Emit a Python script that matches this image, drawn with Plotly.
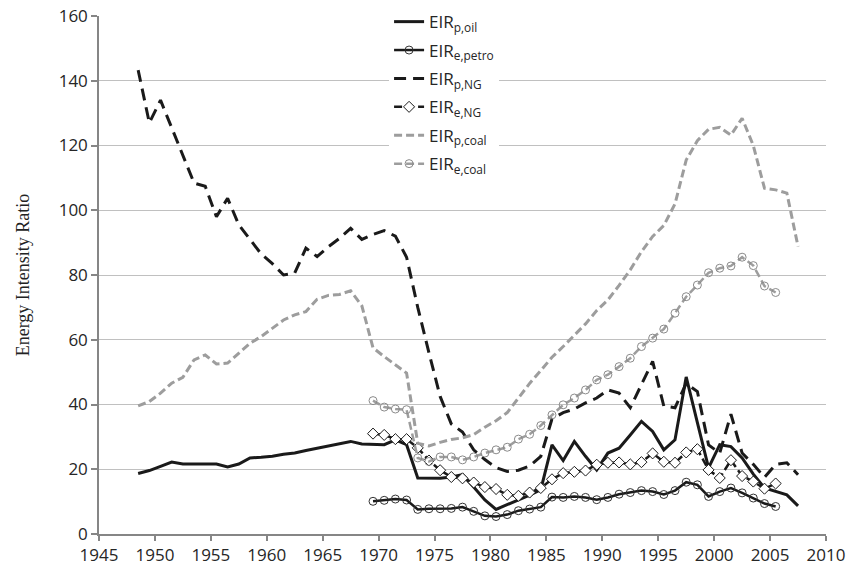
import plotly.graph_objects as go

# ---- data (annual values; each plotted at mid-year) ----
years_p = list(range(1949, 2009))
years_e = list(range(1970, 2007))

eir_p_oil = [18.7, 19.6, 20.9, 22.2, 21.6, 21.5, 21.6, 21.6, 20.7, 21.6,
             23.5, 23.7, 24.0, 24.6, 25.0, 25.8, 26.5, 27.2, 27.8, 28.6,
             27.8, 27.8, 27.6, 29.1, 27.6, 17.3, 17.2, 17.2, 17.6, 18.3,
             14.5, 10.5, 7.6, 9.0, 10.5, 12.0, 13.7, 27.5, 22.7, 28.6,
             24.0, 19.8, 25.0, 26.5, 30.6, 34.8, 31.7, 26.0, 29.1, 48.5,
             34.4, 20.4, 27.6, 27.0, 23.5, 18.5, 14.2, 13.1, 12.1, 8.7]

eir_p_ng = [143.3, 127.0, 134.0, 125.5, 117.0, 108.4, 107.4, 98.0, 103.7, 95.5,
            91.0, 86.5, 83.5, 80.0, 80.6, 88.3, 85.7, 88.7, 91.3, 94.4,
            91.0, 92.5, 93.7, 92.0, 85.5, 70.0, 56.0, 42.5, 34.0, 31.5,
            26.0, 23.0, 20.5, 19.3, 19.7, 21.0, 24.0, 35.5, 37.5, 38.6,
            40.5, 42.0, 44.5, 43.5, 39.0, 46.0, 53.3, 39.5, 39.0, 46.5,
            44.0, 27.5, 25.0, 37.0, 25.0, 21.5, 17.5, 21.5, 22.0, 18.3]

eir_p_coal = [39.6, 40.9, 43.5, 46.6, 48.4, 53.8, 55.3, 52.5, 52.8, 55.9,
              58.9, 61.0, 63.6, 66.1, 67.7, 68.7, 72.5, 73.7, 74.0, 75.1,
              70.5, 57.5, 54.8, 52.3, 49.7, 28.0, 27.2, 28.3, 29.2, 29.7,
              30.7, 33.0, 35.0, 37.5, 42.0, 46.5, 50.5, 54.6, 57.9, 61.3,
              64.9, 69.0, 72.3, 76.8, 81.6, 87.2, 91.9, 95.3, 102.0, 115.5,
              121.5, 125.0, 125.6, 123.2, 128.4, 120.0, 106.8, 106.3, 105.3, 88.8]

eir_e_petro = [10.1, 10.4, 10.8, 10.5, 7.6, 7.8, 7.8, 7.9, 8.3, 7.0,
               5.6, 5.4, 6.0, 7.2, 7.7, 8.3, 11.4, 11.3, 11.6, 11.3,
               10.6, 11.3, 12.3, 12.8, 13.4, 13.1, 12.2, 13.4, 16.0, 15.2,
               11.6, 13.1, 14.2, 12.7, 11.1, 9.4, 8.5]

eir_e_ng = [31.0, 30.6, 29.3, 29.3, 26.6, 22.7, 19.7, 17.6, 17.2, 15.9,
            14.5, 13.9, 12.1, 11.8, 12.8, 14.2, 16.9, 18.8, 19.2, 19.6,
            21.4, 22.0, 22.1, 21.5, 22.2, 24.9, 22.3, 22.0, 25.2, 26.2,
            19.8, 17.3, 22.8, 17.9, 16.2, 14.0, 15.6]

eir_e_coal = [41.2, 39.2, 38.6, 38.4, 23.5, 22.4, 23.8, 23.8, 22.9, 23.8,
              25.0, 26.0, 26.8, 29.3, 30.8, 33.5, 36.8, 39.9, 42.0, 44.5,
              47.6, 49.2, 51.7, 54.3, 57.9, 60.5, 63.3, 68.2, 73.3, 76.9,
              80.7, 82.1, 82.8, 85.5, 82.9, 76.6, 74.6]

names = ["EIR<sub>p,oil</sub>", "EIR<sub>e,petro</sub>", "EIR<sub>p,NG</sub>",
         "EIR<sub>e,NG</sub>", "EIR<sub>p,coal</sub>", "EIR<sub>e,coal</sub>"]

BLACK = "#1a1a1a"
GRAY = "#9d9d9d"
MID_YEAR = 0.5


def xs(years):
    return [y - MID_YEAR for y in years]


fig = go.Figure()

fig.add_trace(go.Scatter(x=xs(years_p), y=eir_p_oil, name=names[0], mode="lines",
                         line=dict(color=BLACK, width=3), legendgroup="a"))
fig.add_trace(go.Scatter(x=xs(years_e), y=eir_e_petro, name=names[1], mode="lines+markers",
                         line=dict(color=BLACK, width=2.5),
                         marker=dict(symbol="circle-open", size=8, color="#333333",
                                     line=dict(width=1, color="#333333")),
                         legendgroup="b"))
fig.add_trace(go.Scatter(x=xs(years_p), y=eir_p_ng, name=names[2], mode="lines",
                         line=dict(color=BLACK, width=3, dash="12px,7px"), legendgroup="c"))
fig.add_trace(go.Scatter(x=xs(years_e), y=eir_e_ng, name=names[3], mode="lines+markers",
                         line=dict(color=BLACK, width=2.5, dash="8px,4px"),
                         marker=dict(symbol="diamond", size=8.5, color="white",
                                     line=dict(width=1, color=BLACK)),
                         legendgroup="d"))
fig.add_trace(go.Scatter(x=xs(years_p), y=eir_p_coal, name=names[4], mode="lines",
                         line=dict(color=GRAY, width=3, dash="8px,4px"), legendgroup="e"))
fig.add_trace(go.Scatter(x=xs(years_e), y=eir_e_coal, name=names[5], mode="lines+markers",
                         line=dict(color=GRAY, width=2.5, dash="8px,4px"),
                         marker=dict(symbol="circle-open", size=8, color="#8a8a8a",
                                     line=dict(width=1, color="#8a8a8a")),
                         legendgroup="f"))

fig.update_layout(
    width=848, height=574,
    margin=dict(l=99, r=22, t=16, b=40, pad=0, autoexpand=False),
    paper_bgcolor="white", plot_bgcolor="white",
    font=dict(family="Open Sans", size=17, color="#262626"),
    showlegend=True,
    legend=dict(x=0.399, y=1.023, xanchor="left", yanchor="top",
                bgcolor="white", borderwidth=0, tracegroupgap=3.3,
                font=dict(family="Open Sans", size=17, color="#262626")),
    xaxis=dict(range=[1945, 2010], tick0=1945, dtick=5, showgrid=False,
               showline=True, linecolor="#868686", linewidth=1.5,
               ticks="outside", ticklen=5, tickcolor="#868686", tickwidth=1.5,
               zeroline=False, tickfont=dict(size=17)),
    yaxis=dict(range=[0, 160], tick0=0, dtick=20, showgrid=True,
               gridcolor="#c0c0c0", gridwidth=1.3,
               showline=True, linecolor="#868686", linewidth=1.5,
               ticks="outside", ticklen=6, tickcolor="#868686", tickwidth=1.5,
               zeroline=False, tickfont=dict(size=17),
               title=dict(text="Energy Intensity Ratio", standoff=24,
                          font=dict(family="Liberation Serif", size=18, color="#222222"))),
)

fig.write_html("out.html",
               config={"displayModeBar": False},
               post_script="document.body.style.margin='0px';")
